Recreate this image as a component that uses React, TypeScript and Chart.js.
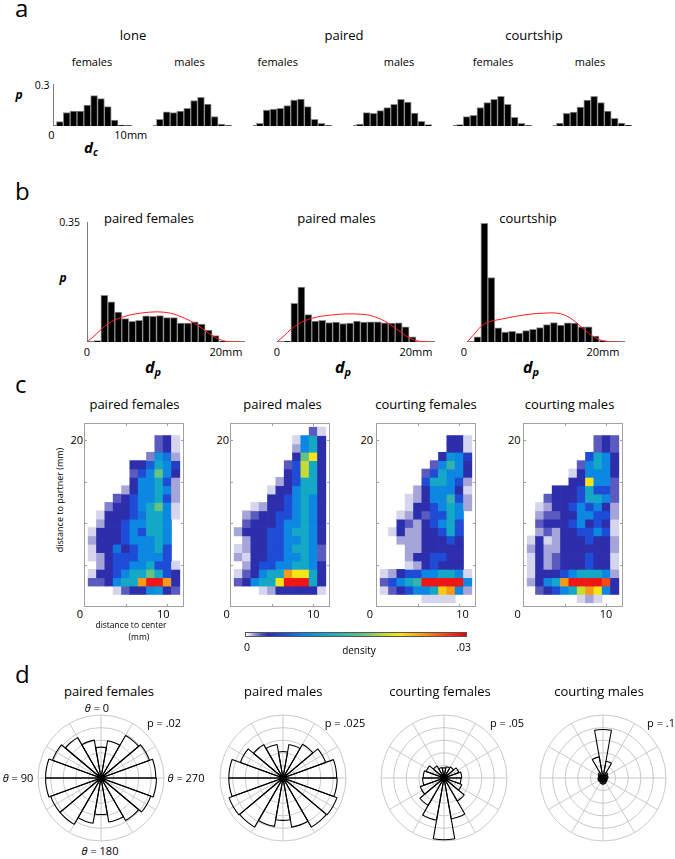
import React, { useEffect, useRef } from "react";
import { Chart, registerables } from "chart.js";
Chart.register(...registerables);

const FONT = "'Open Sans', 'Noto Sans', 'DejaVu Sans', sans-serif";

// ---------------- panel a : distance to centre d_c ----------------
const DC_BIN_CENTERS = [0.88, 1.76, 2.64, 3.52, 4.4, 5.28, 6.16, 7.04, 7.92, 8.8, 9.68];
const DC_LONE_FEMALES = [0.031, 0.095, 0.107, 0.107, 0.15, 0.217, 0.195, 0.138, 0.043, 0.007, 0.003];
const DC_LONE_MALES = [0.048, 0.102, 0.095, 0.107, 0.126, 0.181, 0.205, 0.157, 0.067, 0.014, 0.003];
const DC_PAIRED_FEMALES = [0.019, 0.114, 0.121, 0.126, 0.145, 0.186, 0.193, 0.138, 0.048, 0.019, 0.003];
const DC_PAIRED_MALES = [0.014, 0.095, 0.09, 0.11, 0.131, 0.155, 0.19, 0.171, 0.093, 0.033, 0.01];
const DC_COURT_FEMALES = [0.01, 0.067, 0.076, 0.131, 0.167, 0.19, 0.212, 0.155, 0.062, 0.019, 0.003];
const DC_COURT_MALES = [0.021, 0.09, 0.1, 0.136, 0.186, 0.212, 0.167, 0.107, 0.055, 0.021, 0.005];
const A_GROUPS = ["lone", "paired", "courtship"];
const A_SEXES = ["females", "males"];
const A_Y_TICK = "0.3";
const A_X_TICKS = ["0", "10mm"];

// ---------------- panel b : distance to partner d_p ----------------
const DP_BIN_CENTERS = [1.5, 2.5, 3.5, 4.5, 5.5, 6.5, 7.5, 8.5, 9.5, 10.5, 11.5, 12.5, 13.5, 14.5, 15.5, 16.5, 17.5, 18.5, 19.5];
const DP_PAIRED_FEMALES = [0.004, 0.136, 0.117, 0.087, 0.068, 0.06, 0.063, 0.076, 0.075, 0.077, 0.071, 0.071, 0.055, 0.055, 0.059, 0.052, 0.035, 0.019, 0.002];
const DP_PAIRED_MALES = [0.002, 0.113, 0.16, 0.08, 0.061, 0.063, 0.057, 0.058, 0.054, 0.055, 0.061, 0.058, 0.059, 0.059, 0.056, 0.055, 0.056, 0.044, 0.015];
const DP_COURTSHIP = [0.015, 0.346, 0.188, 0.041, 0.029, 0.031, 0.026, 0.033, 0.037, 0.042, 0.051, 0.057, 0.049, 0.056, 0.055, 0.044, 0.044, 0.017, 0.004];
const NULL_X = [0, 1, 2, 3, 4, 5, 6, 7, 8, 9, 10, 11, 12, 13, 14, 15, 16, 17, 18, 19, 20, 21, 22];
const NULL_PAIRED_FEMALES = [0, 0.017, 0.036, 0.053, 0.064, 0.072, 0.078, 0.082, 0.085, 0.087, 0.088, 0.087, 0.084, 0.078, 0.07, 0.06, 0.048, 0.033, 0.019, 0.008, 0.002, 0, 0];
const NULL_PAIRED_MALES = [0, 0.018, 0.037, 0.052, 0.062, 0.069, 0.074, 0.077, 0.079, 0.081, 0.082, 0.082, 0.081, 0.079, 0.074, 0.066, 0.055, 0.041, 0.026, 0.012, 0.004, 0.001, 0];
const NULL_COURTSHIP = [0, 0.022, 0.045, 0.058, 0.063, 0.067, 0.071, 0.075, 0.078, 0.081, 0.083, 0.084, 0.085, 0.084, 0.079, 0.068, 0.052, 0.034, 0.018, 0.007, 0.002, 0, 0];
const B_TITLES = ["paired females", "paired males", "courtship"];
const B_Y_TICK = "0.35";
const B_X_TICKS = ["0", "20mm"];

// ---------------- panel c : density heat maps (values in units of 0.001) ----------------
const HM_COLS = [1, 2, 3, 4, 5, 6, 7, 8, 9, 10, 11];
const HM_ROWS = [21, 20, 19, 18, 17, 16, 15, 14, 13, 12, 11, 10, 9, 8, 7, 6, 5, 4, 3, 2, 1];
const HM_UNIT = 0.001;
const HM_MAX = 0.03;
const HM_PAIRED_FEMALES = [
  [0, 0, 0, 0, 0, 0, 0, 0, 0, 0, 0],
  [0, 0, 0, 0, 0, 0, 0, 0, 2, 3, 0.5],
  [0, 0, 0, 0, 0, 0, 0, 0, 2, 3, 0.5],
  [0, 0, 0, 0, 0, 0, 0, 1.5, 9, 7, 1],
  [0, 0, 0, 0, 0, 3, 3, 6, 11, 8, 4],
  [0, 0, 0, 0, 0, 2, 5, 8, 16, 8, 3],
  [0, 0, 0, 0, 0, 3, 8, 8, 11, 5, 1],
  [0, 0, 0, 0, 1, 3, 8, 8, 11, 8, 1],
  [0, 0, 0, 2, 3, 5, 8, 8, 11, 5, 1],
  [0, 0, 1.5, 3, 3, 5, 8, 11, 16, 8, 0.5],
  [0, 0.5, 3, 3, 3, 5, 7, 11, 11, 8, 0.5],
  [0, 1, 3, 3, 5, 8, 8, 11, 11, 8, 0],
  [0.5, 3, 3, 3, 5, 8, 5, 11, 11, 8, 0],
  [1, 3, 3, 3, 5, 8, 8, 8, 11, 8, 0],
  [0.5, 3, 3, 7, 3, 5, 8, 8, 11, 5, 0],
  [0.5, 1, 3, 5, 5, 5, 8, 8, 8, 5, 0],
  [0, 1, 3, 5, 5, 8, 8, 11, 5, 5, 0.5],
  [0.5, 3, 3, 5, 8, 11, 11, 16, 11, 5, 3],
  [2, 2, 3, 8, 11, 11, 24, 29, 29, 24, 3],
  [0, 0, 0, 0.5, 2, 3, 3, 8, 9, 3, 2],
  [0, 0, 0, 0, 0, 0, 0, 0, 0, 0, 0],
];
const HM_PAIRED_MALES = [
  [0, 0, 0, 0, 0, 0, 0, 0, 0, 2, 0.5],
  [0, 0, 0, 0, 0, 0, 0, 0.5, 8, 11, 3],
  [0, 0, 0, 0, 0, 0, 0, 1, 8, 11, 3],
  [0, 0, 0, 0, 0, 0, 0, 3, 16, 21, 3],
  [0, 0, 0, 0, 0, 0, 2, 5, 19, 11, 3],
  [0, 0, 0, 0, 0, 0, 3, 5, 19, 11, 3],
  [0, 0, 0, 0, 0, 1, 3, 5, 11, 11, 3],
  [0, 0, 0, 0, 0.5, 3, 3, 8, 11, 11, 3],
  [0, 0, 0, 0, 3, 3, 5, 8, 11, 8, 3],
  [0, 0, 0.5, 1, 3, 3, 5, 8, 11, 8, 3],
  [0, 1, 2, 3, 3, 5, 5, 8, 11, 8, 3],
  [0, 2, 3, 3, 3, 5, 8, 8, 11, 8, 3],
  [1, 3, 3, 3, 5, 5, 8, 11, 11, 8, 3],
  [0, 1, 3, 3, 5, 5, 8, 8, 11, 8, 3],
  [0.5, 1, 3, 3, 5, 5, 8, 11, 11, 8, 2],
  [1, 0.5, 3, 3, 5, 5, 8, 8, 11, 8, 2],
  [0, 1, 3, 5, 5, 8, 8, 11, 11, 8, 3],
  [0.5, 2, 3, 8, 11, 11, 24, 21, 21, 11, 3],
  [2, 3, 8, 11, 11, 21, 29, 29, 29, 11, 3],
  [0, 0, 0, 0.5, 1, 3, 3, 3, 3, 3, 0.5],
  [0, 0, 0, 0, 0, 0, 0, 0, 0, 0, 0],
];
const HM_COURT_FEMALES = [
  [0, 0, 0, 0, 0, 0, 0, 0, 0, 0, 0],
  [0, 0, 0, 0, 0, 0, 0, 0, 3, 3, 0.5],
  [0, 0, 0, 0, 0, 0, 0, 0, 3, 3, 0.5],
  [0, 0, 0, 0, 0, 0, 0, 3, 9, 8, 4],
  [0, 0, 0, 0, 0, 0, 2, 8, 13, 8, 3],
  [0, 0, 0, 0, 0, 2, 5, 11, 8, 8, 3],
  [0, 0, 0, 0, 0, 5, 11, 11, 8, 5, 1],
  [0, 0, 0, 0, 1, 3, 8, 8, 8, 3, 0.5],
  [0, 0, 0, 0.5, 1, 3, 8, 8, 13, 5, 1],
  [0, 0, 0, 0.5, 3, 3, 5, 8, 11, 8, 1],
  [0, 0, 0.5, 1, 3, 2, 5, 5, 11, 8, 0],
  [0, 0, 3, 2, 1, 3, 5, 8, 11, 5, 0],
  [0, 0.5, 3, 1, 1, 3, 3, 5, 11, 5, 0],
  [0, 0, 1, 1, 1, 3, 3, 3, 5, 3, 0],
  [0, 0, 0, 1, 1, 3, 3, 3, 3, 3, 0],
  [0, 0, 0, 1, 3, 3, 5, 5, 3, 3, 0],
  [0, 0, 0, 0.5, 1, 3, 5, 3, 3, 3, 0],
  [0.5, 1, 3, 5, 5, 8, 8, 11, 11, 8, 0.5],
  [2, 5, 8, 11, 13, 29, 29, 29, 29, 29, 8],
  [0.5, 2, 3, 5, 8, 8, 11, 22, 24, 8, 1],
  [0, 0, 0, 0, 0, 0.5, 0.5, 0.5, 0.5, 0, 0],
];
const HM_COURT_MALES = [
  [0, 0, 0, 0, 0, 0, 0, 0, 0, 0, 0],
  [0, 0, 0, 0, 0, 0, 0, 0, 2, 3, 2],
  [0, 0, 0, 0, 0, 0, 0, 0, 2, 3, 2],
  [0, 0, 0, 0, 0, 0, 0, 5, 11, 8, 3],
  [0, 0, 0, 0, 0, 0, 2, 8, 11, 8, 3],
  [0, 0, 0, 0, 0, 0.5, 3, 8, 8, 8, 3],
  [0, 0, 0, 0, 0, 3, 3, 21, 8, 8, 2],
  [0, 0, 0, 3, 3, 3, 5, 11, 5, 5, 2],
  [0, 0, 2, 3, 3, 3, 5, 11, 11, 8, 2],
  [0, 0.5, 1, 3, 3, 5, 8, 5, 8, 3, 1],
  [0, 1, 2, 2, 3, 3, 8, 8, 5, 5, 1],
  [0, 2, 3, 3, 3, 5, 8, 3, 5, 3, 0.5],
  [0, 1, 2, 1, 3, 3, 5, 5, 8, 5, 0.5],
  [0.5, 3, 0.5, 1, 3, 3, 3, 5, 3, 3, 1],
  [1, 3, 1, 1, 3, 3, 3, 3, 3, 3, 1],
  [0.5, 3, 1, 2, 3, 3, 3, 5, 3, 3, 0.5],
  [0.5, 3, 1, 2, 3, 3, 3, 5, 3, 3, 0.5],
  [0.5, 3, 3, 3, 5, 8, 11, 11, 11, 8, 1],
  [1, 3, 8, 11, 24, 29, 29, 29, 29, 27, 3],
  [0, 2, 3, 5, 8, 11, 19, 24, 21, 8, 3],
  [0, 0, 0, 0, 0, 0, 0.5, 1, 0.5, 0, 0],
];
const C_TITLES = ["paired females", "paired males", "courting females", "courting males"];
const HM_Y_TICKS = [5, 10, 15, 20];
const HM_X_TICKS = [5, 10];
const C_X_TICK_LABELS = ["0", "10"];
const C_Y_TICK_LABEL = "20";
const CBAR_LABELS = ["0", "density", ".03"];

// colour map (jet-like, faded to white at the low end)
const CMAP_STOPS: [number, string][] = [
  [0, "#ffffff"], [0.017, "#d4d4ee"], [0.033, "#a6a6da"], [0.067, "#5a5abf"],
  [0.1, "#2c2eac"], [0.167, "#1e4cd6"], [0.267, "#0c88e2"], [0.367, "#14a8c6"],
  [0.533, "#64c282"], [0.633, "#c6dc34"], [0.7, "#f4e418"], [0.8, "#f79a1a"],
  [0.967, "#ef1616"], [1, "#e60000"],
];

// ---------------- panel d : rose plots ----------------
const ROSE_THETA = [0, 20, 40, 60, 80, 100, 120, 140, 160, 180, 200, 220, 240, 260, 280, 300, 320, 340];
const ROSE_PAIRED_FEMALES = [0.0098, 0.0122, 0.0148, 0.0164, 0.0176, 0.0176, 0.017, 0.017, 0.0146, 0.0116, 0.0142, 0.0156, 0.0168, 0.0176, 0.0174, 0.0164, 0.0156, 0.012];
const ROSE_PAIRED_MALES = [0.0105, 0.0135, 0.0153, 0.018, 0.0215, 0.0215, 0.0228, 0.0225, 0.0195, 0.0168, 0.0198, 0.0225, 0.0228, 0.0215, 0.0213, 0.018, 0.0155, 0.0135];
const ROSE_COURT_FEMALES = [0.008, 0.0085, 0.011, 0.015, 0.0165, 0.017, 0.02, 0.025, 0.034, 0.049, 0.033, 0.021, 0.015, 0.0135, 0.014, 0.0125, 0.01, 0.009];
const ROSE_COURT_MALES = [0.077, 0.034, 0.01, 0.008, 0.007, 0.008, 0.008, 0.008, 0.009, 0.01, 0.009, 0.008, 0.007, 0.007, 0.008, 0.008, 0.01, 0.027];
const ROSE_PMAX = [0.02, 0.025, 0.05, 0.1];
const ROSE_P_LABELS = ["p = .02", "p = .025", "p = .05", "p = .1"];
const D_TITLES = ["paired females", "paired males", "courting females", "courting males"];

// ---------------- helpers ----------------
function hexRgb(h: string) {
  const n = parseInt(h.slice(1), 16);
  return [(n >> 16) & 255, (n >> 8) & 255, n & 255];
}
function cmap(t: number) {
  const v = Math.max(0, Math.min(1, t));
  for (let i = 1; i < CMAP_STOPS.length; i++) {
    const [t1, c1] = CMAP_STOPS[i];
    const [t0, c0] = CMAP_STOPS[i - 1];
    if (v <= t1) {
      const f = (v - t0) / (t1 - t0 || 1);
      const a = hexRgb(c0), b = hexRgb(c1);
      return `rgb(${Math.round(a[0] + (b[0] - a[0]) * f)},${Math.round(a[1] + (b[1] - a[1]) * f)},${Math.round(a[2] + (b[2] - a[2]) * f)})`;
    }
  }
  return CMAP_STOPS[CMAP_STOPS.length - 1][1];
}

const AXIS_GRAY = "#7d7d7d";
const GRID_GRAY = "#c9c9c9";

const axesPlugin = (showY: boolean) => ({
  id: "axesLines",
  beforeDatasetsDraw(chart: any) {
    const { ctx, chartArea } = chart;
    const { left, right, top, bottom } = chartArea;
    ctx.save();
    ctx.strokeStyle = AXIS_GRAY;
    ctx.lineWidth = 1;
    ctx.beginPath();
    ctx.moveTo(left, bottom - 0.5);
    ctx.lineTo(right, bottom - 0.5);
    if (showY) {
      ctx.moveTo(left + 0.5, top);
      ctx.lineTo(left + 0.5, bottom);
    }
    ctx.stroke();
    ctx.restore();
  },
});

const framePlugin = {
  id: "frame",
  afterDatasetsDraw(chart: any) {
    const { ctx, chartArea, scales } = chart;
    const { left, right, top, bottom } = chartArea;
    ctx.save();
    ctx.strokeStyle = "#a0a0a0";
    ctx.lineWidth = 1;
    ctx.strokeRect(left + 0.5, top + 0.5, right - left - 1, bottom - top - 1);
    ctx.beginPath();
    HM_Y_TICKS.forEach((v) => {
      const py = Math.round(scales.y.getPixelForValue(v)) + 0.5;
      ctx.moveTo(left, py); ctx.lineTo(left + 3, py);
      ctx.moveTo(right, py); ctx.lineTo(right - 3, py);
    });
    HM_X_TICKS.forEach((v) => {
      const px = Math.round(scales.x.getPixelForValue(v)) + 0.5;
      ctx.moveTo(px, bottom); ctx.lineTo(px, bottom - 3);
      ctx.moveTo(px, top); ctx.lineTo(px, top + 3);
    });
    ctx.stroke();
    ctx.restore();
  },
};

const spokesPlugin = {
  id: "spokes",
  beforeDatasetsDraw(chart: any) {
    const r = chart.scales.r;
    const ctx = chart.ctx;
    ctx.save();
    ctx.strokeStyle = GRID_GRAY;
    ctx.lineWidth = 1;
    ctx.beginPath();
    for (let k = 0; k < 12; k++) {
      const a = (k * Math.PI) / 6;
      ctx.moveTo(r.xCenter, r.yCenter);
      ctx.lineTo(r.xCenter + r.drawingArea * Math.sin(a), r.yCenter - r.drawingArea * Math.cos(a));
    }
    ctx.stroke();
    ctx.restore();
  },
};

const baseOptions = {
  responsive: false,
  animation: false,
  events: [],
  layout: { padding: 0 },
  plugins: { legend: { display: false }, tooltip: { enabled: false } },
};

function ChartCanvas({ left, top, width, height, make }: any) {
  const ref = useRef<HTMLCanvasElement>(null);
  useEffect(() => {
    const chart = new Chart(ref.current as HTMLCanvasElement, make());
    return () => chart.destroy();
  }, []);
  return (
    <canvas
      ref={ref}
      width={width}
      height={height}
      style={{ position: "absolute", left, top, width, height }}
    />
  );
}

function Txt({ x, y, size, children, anchor = "middle", weight = 400, italic = false, color = "#000" }: any) {
  const tx = anchor === "middle" ? "-50%" : anchor === "end" ? "-100%" : "0";
  return (
    <div
      style={{
        position: "absolute",
        left: x,
        top: y - 0.888 * size,
        fontSize: size,
        lineHeight: `${size}px`,
        fontWeight: weight,
        fontStyle: italic ? "italic" : "normal",
        whiteSpace: "nowrap",
        color,
        transform: `translateX(${tx})`,
      }}
    >
      {children}
    </div>
  );
}

function Th() {
  return <span style={{ fontStyle: "italic" }}>θ</span>;
}

// ---------------- chart configs ----------------
function dcConfig(values: number[], showY: boolean) {
  return {
    type: "bar",
    data: {
      datasets: [
        {
          data: DC_BIN_CENTERS.map((x, i) => ({ x, y: values[i] })),
          backgroundColor: "#000",
          borderColor: "#8c8c8c",
          borderWidth: 1,
          barPercentage: 1,
          categoryPercentage: 1,
        },
      ],
    },
    options: {
      ...baseOptions,
      scales: {
        x: { type: "linear", min: 0, max: 10.15, display: false, offset: false },
        y: { min: 0, max: 0.3, display: false },
      },
    },
    plugins: [axesPlugin(showY)],
  };
}

function dpConfig(values: number[], nullValues: number[], showY: boolean) {
  return {
    type: "bar",
    data: {
      datasets: [
        {
          type: "line",
          order: 0,
          data: NULL_X.map((x, i) => ({ x, y: nullValues[i] })),
          borderColor: "#ff1a1a",
          borderWidth: 1,
          pointRadius: 0,
          tension: 0.4,
          cubicInterpolationMode: "monotone",
          fill: false,
        },
        {
          type: "bar",
          order: 1,
          data: DP_BIN_CENTERS.map((x, i) => ({ x, y: values[i] })),
          backgroundColor: "#000",
          borderColor: "#8c8c8c",
          borderWidth: 1,
          barPercentage: 1,
          categoryPercentage: 1,
        },
      ],
    },
    options: {
      ...baseOptions,
      scales: {
        x: { type: "linear", min: 0, max: 22.73, display: false, offset: false },
        y: { min: 0, max: 0.35, display: false },
      },
    },
    plugins: [axesPlugin(showY)],
  };
}

function heatConfig(grid: number[][]) {
  const datasets = HM_ROWS.map((yc, ri) => {
    const cells: any[] = [];
    const colors: string[] = [];
    HM_COLS.forEach((xc, ci) => {
      const v = grid[ri][ci];
      if (v > 0) {
        cells.push({ x: xc, y: [yc - 0.5, yc + 0.5] });
        colors.push(cmap((v * HM_UNIT) / HM_MAX));
      }
    });
    return {
      data: cells,
      backgroundColor: colors,
      borderWidth: 0,
      barPercentage: 1,
      categoryPercentage: 1,
      grouped: false,
    };
  });
  return {
    type: "bar",
    data: { datasets },
    options: {
      ...baseOptions,
      scales: {
        x: { type: "linear", min: 0, max: 12, display: false, offset: false },
        y: { type: "linear", min: 0, max: 22, display: false },
      },
    },
    plugins: [framePlugin],
  };
}

function roseConfig(values: number[], pmax: number) {
  // Chart.js lays slices clockwise from the top; theta in the figure runs anticlockwise.
  const ordered = ROSE_THETA.map((_, i) => values[(ROSE_THETA.length - i) % ROSE_THETA.length]);
  const labels = ROSE_THETA.map((_, i) => String(ROSE_THETA[(ROSE_THETA.length - i) % ROSE_THETA.length]));
  return {
    type: "polarArea",
    data: {
      labels,
      datasets: [
        {
          data: ordered,
          backgroundColor: "rgba(255,255,255,0)",
          borderColor: "#000",
          borderWidth: 1.1,
        },
      ],
    },
    options: {
      ...baseOptions,
      layout: { padding: 2 },
      scales: {
        r: {
          min: 0,
          max: pmax,
          startAngle: -10,
          ticks: { display: false, stepSize: pmax / 5 },
          grid: { color: GRID_GRAY, lineWidth: 1, circular: true },
          angleLines: { display: false },
          pointLabels: { display: false },
        },
      },
    },
    plugins: [spokesPlugin],
  };
}

// ---------------- layout ----------------
const A_LEFTS = [53, 153, 253, 353, 453, 553];
const A_VALUES = [DC_LONE_FEMALES, DC_LONE_MALES, DC_PAIRED_FEMALES, DC_PAIRED_MALES, DC_COURT_FEMALES, DC_COURT_MALES];
const A_GROUP_X = [133, 344, 534];
const A_SEX_X = [92, 189.5, 277.7, 399, 493, 590];

const B_LEFTS = [87, 277, 467];
const B_VALUES = [DP_PAIRED_FEMALES, DP_PAIRED_MALES, DP_COURTSHIP];
const B_NULLS = [NULL_PAIRED_FEMALES, NULL_PAIRED_MALES, NULL_COURTSHIP];
const B_TITLE_X = [149, 336.5, 528];
const B_ZERO_X = [87, 277, 464];
const B_TWENTY_X = [226, 416, 603];
const B_DP_X = [153, 343, 531];

const C_LEFTS = [84, 230, 376, 523];
const C_GRIDS = [HM_PAIRED_FEMALES, HM_PAIRED_MALES, HM_COURT_FEMALES, HM_COURT_MALES];
const C_TITLE_X = [134.5, 282.5, 426, 569.5];
const C_ZERO_X = [80, 226.7, 370, 517.7];
const C_TEN_X = [163.3, 313.3, 462.5, 606];
const C_TWENTY_X = [83, 229, 373, 520.5];

const D_CX = [101, 283, 444, 603];
const D_CY = 778;
const D_VALUES = [ROSE_PAIRED_FEMALES, ROSE_PAIRED_MALES, ROSE_COURT_FEMALES, ROSE_COURT_MALES];
const D_TITLE_X = [109, 283.3, 440, 599];
const D_P_X = [164, 345, 507, 661];

export default function App() {
  const gradient = `linear-gradient(to right, ${CMAP_STOPS.map(([t, c]) => `${c} ${(t * 100).toFixed(1)}%`).join(", ")})`;
  return (
    <div
      style={{
        position: "absolute",
        left: 0,
        top: 0,
        width: 675,
        height: 859,
        background: "#fff",
        fontFamily: FONT,
        color: "#000",
        overflow: "hidden",
      }}
    >
      {/* ---------- a ---------- */}
      <Txt x={15} y={17} size={24} anchor="start">a</Txt>
      {A_GROUPS.map((g, i) => (
        <Txt key={g} x={A_GROUP_X[i]} y={40.5} size={13}>{g}</Txt>
      ))}
      {A_SEX_X.map((x, i) => (
        <Txt key={"s" + i} x={x} y={65.5} size={11}>{A_SEXES[i % 2]}</Txt>
      ))}
      {A_LEFTS.map((l, i) => (
        <ChartCanvas key={"a" + i} left={l} top={84} width={79} height={42} make={() => dcConfig(A_VALUES[i], i === 0)} />
      ))}
      <Txt x={49.5} y={89} size={10.5} anchor="end">{A_Y_TICK}</Txt>
      <Txt x={19} y={99.5} size={12} weight={700} italic>p</Txt>
      <Txt x={51.3} y={138.3} size={11}>{A_X_TICKS[0]}</Txt>
      <Txt x={130.8} y={138.3} size={11}>{A_X_TICKS[1]}</Txt>
      <Txt x={91} y={153} size={15} weight={700} italic>
        d<span style={{ fontSize: 10, position: "relative", top: 3 }}>c</span>
      </Txt>

      {/* ---------- b ---------- */}
      <Txt x={15} y={200} size={24} anchor="start">b</Txt>
      {B_TITLES.map((t, i) => (
        <Txt key={t} x={B_TITLE_X[i]} y={223.5} size={13}>{t}</Txt>
      ))}
      {B_LEFTS.map((l, i) => (
        <ChartCanvas key={"b" + i} left={l} top={222} width={158} height={120} make={() => dpConfig(B_VALUES[i], B_NULLS[i], i === 0)} />
      ))}
      <Txt x={80} y={226.7} size={10.5} anchor="end">{B_Y_TICK}</Txt>
      <Txt x={63} y={283} size={12} weight={700} italic>p</Txt>
      {B_ZERO_X.map((x, i) => (
        <React.Fragment key={"bt" + i}>
          <Txt x={x} y={356} size={11}>{B_X_TICKS[0]}</Txt>
          <Txt x={B_TWENTY_X[i]} y={356} size={11}>{B_X_TICKS[1]}</Txt>
          <Txt x={B_DP_X[i]} y={373} size={16} weight={700} italic>
            d<span style={{ fontSize: 11, position: "relative", top: 3 }}>p</span>
          </Txt>
        </React.Fragment>
      ))}

      {/* ---------- c ---------- */}
      <Txt x={15} y={393.3} size={24} anchor="start">c</Txt>
      {C_TITLES.map((t, i) => (
        <Txt key={"ct" + i} x={C_TITLE_X[i]} y={409.5} size={13}>{t}</Txt>
      ))}
      {C_LEFTS.map((l, i) => (
        <React.Fragment key={"c" + i}>
          <ChartCanvas left={l} top={423} width={100} height={184} make={() => heatConfig(C_GRIDS[i])} />
          <Txt x={C_TWENTY_X[i]} y={444} size={11} anchor="end">{C_Y_TICK_LABEL}</Txt>
          <Txt x={C_ZERO_X[i]} y={617.3} size={11}>{C_X_TICK_LABELS[0]}</Txt>
          <Txt x={C_TEN_X[i]} y={617.3} size={11}>{C_X_TICK_LABELS[1]}</Txt>
        </React.Fragment>
      ))}
      <div
        style={{
          position: "absolute",
          left: 58.5,
          top: 500,
          fontSize: 9,
          lineHeight: "9px",
          whiteSpace: "nowrap",
          transform: "translate(-50%, -50%) rotate(-90deg)",
        }}
      >
        distance to partner (mm)
      </div>
      <Txt x={131} y={629} size={8.5}>distance to center</Txt>
      <Txt x={139} y={641} size={8.5}>(mm)</Txt>
      <div
        style={{
          position: "absolute",
          left: 245,
          top: 632,
          width: 222,
          height: 5,
          boxSizing: "border-box",
          border: "1px solid #555",
          background: gradient,
        }}
      />
      <Txt x={247} y={651} size={10.5}>{CBAR_LABELS[0]}</Txt>
      <Txt x={359} y={654} size={10}>{CBAR_LABELS[1]}</Txt>
      <Txt x={463.7} y={651} size={10.5}>{CBAR_LABELS[2]}</Txt>

      {/* ---------- d ---------- */}
      <Txt x={15} y={683.3} size={24} anchor="start">d</Txt>
      {D_TITLES.map((t, i) => (
        <Txt key={"dt" + i} x={D_TITLE_X[i]} y={696.5} size={13}>{t}</Txt>
      ))}
      {D_CX.map((cx, i) => (
        <React.Fragment key={"d" + i}>
          <ChartCanvas left={cx - 65} top={D_CY - 65} width={130} height={130} make={() => roseConfig(D_VALUES[i], ROSE_PMAX[i])} />
          <Txt x={D_P_X[i]} y={726.5} size={11}>{ROSE_P_LABELS[i]}</Txt>
        </React.Fragment>
      ))}
      <Txt x={97} y={711.5} size={11}><Th /> = 0</Txt>
      <Txt x={18} y={781.5} size={11}><Th /> = 90</Txt>
      <Txt x={186} y={781.5} size={11}><Th /> = 270</Txt>
      <Txt x={100} y={855} size={11}><Th /> = 180</Txt>
    </div>
  );
}
